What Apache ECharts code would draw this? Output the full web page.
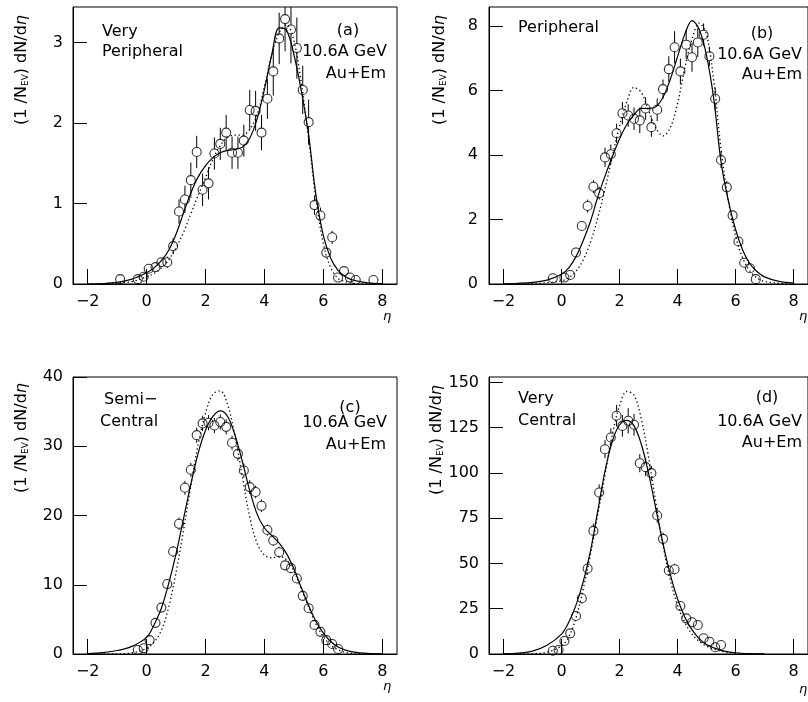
<!DOCTYPE html>
<html>
<head>
<meta charset="utf-8">
<script src="https://cdn.jsdelivr.net/npm/echarts@6/dist/echarts.min.js"></script>
<style>
  html, body { margin: 0; padding: 0; background: #fff; }
  #chart { width: 808px; height: 702px; }
</style>
</head>
<body>
<div id="chart"></div>
<script>
// tick labels
const etaTicks = [-2, 0, 2, 4, 6, 8]
const yTicksA = [0, 1, 2, 3]
const yTicksB = [0, 2, 4, 6, 8]
const yTicksC = [0, 10, 20, 30, 40]
const yTicksD = [0, 25, 50, 75, 100, 125, 150]

// (a) very peripheral - data points
const etaA = [-0.9, -0.3, -0.1, 0.07, 0.3, 0.5, 0.7, 0.9, 1.1, 1.3, 1.5, 1.7, 1.9, 2.1, 2.3, 2.5, 2.7, 2.9, 3.1, 3.3, 3.5, 3.7, 3.9, 4.1, 4.3, 4.5, 4.7, 4.9, 5.1, 5.3, 5.5, 5.7, 5.9, 6.1, 6.3, 6.5, 6.7, 6.9, 7.1, 7.7]
const valA = [0.06, 0.06, 0.09, 0.19, 0.21, 0.27, 0.27, 0.47, 0.90, 1.05, 1.29, 1.64, 1.17, 1.25, 1.62, 1.74, 1.88, 1.63, 1.63, 1.78, 2.16, 2.15, 1.88, 2.30, 2.64, 3.05, 3.29, 3.16, 2.93, 2.41, 2.01, 0.98, 0.85, 0.39, 0.58, 0.08, 0.16, 0.08, 0.05, 0.05]
const errA = [0.03, 0.03, 0.04, 0.05, 0.05, 0.06, 0.07, 0.1, 0.15, 0.17, 0.22, 0.2, 0.2, 0.2, 0.2, 0.2, 0.22, 0.2, 0.2, 0.2, 0.25, 0.25, 0.22, 0.25, 0.3, 0.32, 0.4, 0.42, 0.38, 0.3, 0.28, 0.12, 0.1, 0.06, 0.08, 0.03, 0.04, 0.03, 0.02, 0.02]
// (a) model curves
const curveEtaA = [-2, -1.5, -1, -0.5, 0, 0.25, 0.5, 0.75, 1, 1.25, 1.5, 1.75, 2, 2.25, 2.5, 2.75, 3, 3.25, 3.5, 3.75, 4, 4.25, 4.5, 4.75, 5, 5.25, 5.5, 5.75, 6, 6.25, 6.5, 6.75, 7, 7.5, 8]
const solidA = [0, 0.005, 0.02, 0.06, 0.14, 0.2, 0.29, 0.42, 0.62, 0.88, 1.13, 1.33, 1.47, 1.57, 1.63, 1.66, 1.67, 1.7, 1.81, 2.05, 2.42, 2.85, 3.18, 3.15, 2.85, 2.4, 1.85, 1.1, 0.6, 0.32, 0.17, 0.09, 0.05, 0.015, 0.005]
const dotA = [0, 0.003, 0.01, 0.03, 0.09, 0.13, 0.2, 0.3, 0.45, 0.64, 0.87, 1.1, 1.32, 1.55, 1.72, 1.82, 1.85, 1.85, 1.92, 2.1, 2.45, 2.85, 3.12, 3.22, 3.02, 2.5, 1.8, 1.05, 0.5, 0.2, 0.07, 0.03, 0.01, 0, 0]

// (b) peripheral
const etaB = [-0.3, 0.1, 0.3, 0.5, 0.7, 0.9, 1.1, 1.3, 1.5, 1.7, 1.9, 2.1, 2.3, 2.5, 2.7, 2.9, 3.1, 3.3, 3.5, 3.7, 3.9, 4.1, 4.3, 4.5, 4.7, 4.9, 5.1, 5.3, 5.5, 5.7, 5.9, 6.1, 6.3, 6.5, 6.7]
const valB = [0.18, 0.2, 0.28, 0.98, 1.8, 2.42, 3.02, 2.82, 3.93, 4.03, 4.68, 5.3, 5.23, 5.13, 5.08, 5.45, 4.87, 5.41, 6.05, 6.67, 7.35, 6.6, 7.43, 7.04, 7.5, 7.74, 7.07, 5.75, 3.85, 3.0, 2.13, 1.32, 0.66, 0.49, 0.15]
const errB = [0.08, 0.08, 0.1, 0.15, 0.15, 0.2, 0.2, 0.2, 0.3, 0.3, 0.3, 0.35, 0.35, 0.35, 0.4, 0.35, 0.3, 0.35, 0.3, 0.4, 0.5, 0.4, 0.45, 0.45, 0.45, 0.35, 0.3, 0.35, 0.25, 0.2, 0.15, 0.12, 0.1, 0.08, 0.05]
const curveEtaB = [-2, -1.5, -1, -0.5, 0, 0.25, 0.5, 0.75, 1, 1.25, 1.5, 1.75, 2, 2.25, 2.5, 2.75, 3, 3.25, 3.5, 3.75, 4, 4.25, 4.5, 4.75, 5, 5.25, 5.5, 5.75, 6, 6.25, 6.5, 6.75, 7, 7.5, 8]
const solidB = [0, 0.02, 0.05, 0.12, 0.3, 0.5, 0.85, 1.35, 1.95, 2.7, 3.35, 3.95, 4.5, 4.95, 5.25, 5.45, 5.45, 5.5, 5.8, 6.35, 7.05, 7.75, 8.18, 7.9, 7.1, 5.75, 3.8, 2.6, 1.7, 1.05, 0.62, 0.38, 0.22, 0.08, 0.03]
const dotB = [0, 0.005, 0.01, 0.04, 0.1, 0.2, 0.4, 0.75, 1.3, 2.05, 2.95, 3.95, 4.9, 5.65, 6.1, 5.95, 5.4, 4.85, 4.6, 4.85, 5.6, 6.7, 7.6, 8.1, 7.75, 6.3, 4.2, 2.6, 1.5, 0.8, 0.4, 0.18, 0.08, 0.02, 0]

// (c) semi-central
const etaC = [-0.3, -0.1, 0.1, 0.3, 0.5, 0.7, 0.9, 1.1, 1.3, 1.5, 1.7, 1.9, 2.1, 2.3, 2.5, 2.7, 2.9, 3.1, 3.3, 3.5, 3.7, 3.9, 4.1, 4.3, 4.5, 4.7, 4.9, 5.1, 5.3, 5.5, 5.7, 5.9, 6.1, 6.3, 6.5]
const valC = [0.58, 0.82, 2.0, 4.5, 6.7, 10.1, 14.8, 18.8, 24.0, 26.6, 31.6, 33.3, 33.4, 33.0, 33.5, 32.8, 30.5, 28.9, 26.5, 24.1, 23.4, 21.4, 17.9, 16.4, 14.7, 12.8, 12.4, 10.9, 8.4, 6.6, 4.2, 3.2, 2.0, 1.44, 0.72]
const errC = [0.3, 0.3, 0.4, 0.5, 0.6, 0.7, 0.8, 0.9, 1.0, 1.0, 1.1, 1.1, 1.1, 1.1, 1.1, 1.1, 1.0, 1.0, 1.0, 1.0, 0.9, 0.9, 0.8, 0.8, 0.8, 0.7, 0.7, 0.7, 0.6, 0.5, 0.4, 0.4, 0.3, 0.3, 0.2]
const curveEtaC = [-2, -1.5, -1, -0.5, 0, 0.25, 0.5, 0.75, 1, 1.25, 1.5, 1.75, 2, 2.25, 2.5, 2.75, 3, 3.25, 3.5, 3.75, 4, 4.25, 4.5, 4.75, 5, 5.25, 5.5, 5.75, 6, 6.25, 6.5, 6.75, 7, 7.5, 8]
const solidC = [0.05, 0.2, 0.5, 1.1, 2.4, 4.2, 6.6, 10.2, 14.5, 19.5, 24.5, 29.0, 32.3, 34.3, 35.1, 34.3, 31.6, 27.8, 23.6, 20.2, 18.2, 17.1, 16.0, 14.5, 12.3, 9.6, 7.0, 4.7, 3.0, 1.8, 1.0, 0.55, 0.3, 0.08, 0.02]
const dotC = [0, 0.005, 0.02, 0.15, 0.8, 1.7, 3.4, 6.8, 11.8, 17.8, 24.3, 30.3, 34.8, 37.5, 38.0, 36.0, 31.5, 25.6, 19.8, 16.0, 14.3, 13.9, 14.1, 13.6, 12.0, 9.4, 6.8, 4.3, 2.5, 1.3, 0.6, 0.25, 0.1, 0.02, 0]

// (d) very central
const etaD = [-0.3, -0.1, 0.1, 0.3, 0.5, 0.7, 0.9, 1.1, 1.3, 1.5, 1.7, 1.9, 2.1, 2.3, 2.5, 2.7, 2.9, 3.1, 3.3, 3.5, 3.7, 3.9, 4.1, 4.3, 4.5, 4.7, 4.9, 5.1, 5.3, 5.5]
const valD = [1.8, 2.2, 7.2, 11.4, 21.0, 30.8, 47.2, 68.0, 89.2, 113.1, 119.6, 131.6, 126.0, 128.8, 126.6, 105.4, 103.2, 99.9, 76.5, 63.6, 46.1, 46.8, 26.5, 19.7, 17.5, 16.0, 8.7, 6.8, 3.7, 5.0]
const errD = [1, 1, 1.5, 2, 2.5, 3, 3.5, 4, 4.5, 5, 5, 6, 6, 7, 6, 5, 5, 4, 4, 3.5, 3, 3, 2.5, 2, 2, 2, 1.5, 1.5, 1, 1]
const curveEtaD = [-2, -1.5, -1, -0.5, 0, 0.25, 0.5, 0.75, 1, 1.25, 1.5, 1.75, 2, 2.25, 2.5, 2.75, 3, 3.25, 3.5, 3.75, 4, 4.25, 4.5, 4.75, 5, 5.5, 6, 6.5, 7]
const solidD = [0.1, 0.5, 1.6, 4.8, 11, 17.5, 27, 40, 57, 79, 101, 117.5, 126.5, 129, 126, 116, 100, 80.5, 61, 44, 30.5, 20.5, 13.5, 8.5, 5.3, 2.0, 0.7, 0.2, 0.05]
const dotD = [0, 0.05, 0.2, 1, 4.5, 9.5, 20, 36, 55, 77, 99, 121, 137, 145, 143, 130, 109, 84, 60, 41, 27, 17.5, 11, 7, 4.3, 1.6, 0.5, 0.15, 0.03]

const panels = [
  { eta: etaA, val: valA, err: errA, cx: curveEtaA, solid: solidA, dot: dotA, ymax: 3.44, yt: yTicksA, lm: 10 },
  { eta: etaB, val: valB, err: errB, cx: curveEtaB, solid: solidB, dot: dotB, ymax: 8.6, yt: yTicksB, lm: 11 },
  { eta: etaC, val: valC, err: errC, cx: curveEtaC, solid: solidC, dot: dotC, ymax: 40, yt: yTicksC, lm: 10 },
  { eta: etaD, val: valD, err: errD, cx: curveEtaD, solid: solidD, dot: dotD, ymax: 153, yt: yTicksD, lm: 10 }
]

const FONT = 'DejaVu Sans'
const boxes = [
  { left: 73, top: 7 },
  { left: 489, top: 7 },
  { left: 73, top: 377 },
  { left: 489, top: 377 }
]

const minus = v => String(v).replace('-', '\u2212')

// error bars, gap left for the open circle
function errorBar (params, api) {
  const x = api.value(0), y = api.value(1), e = api.value(2)
  const c = api.coord([x, y])
  const hi = api.coord([x, y + e])
  const lo = api.coord([x, y - e])
  const r = 4.6
  const kids = []
  if (c[1] - hi[1] > r) kids.push({ type: 'line', shape: { x1: c[0], y1: hi[1], x2: c[0], y2: c[1] - r }, style: { stroke: '#000', lineWidth: 1 } })
  if (lo[1] - c[1] > r) kids.push({ type: 'line', shape: { x1: c[0], y1: c[1] + r, x2: c[0], y2: lo[1] }, style: { stroke: '#000', lineWidth: 1 } })
  return { type: 'group', children: kids }
}

const grid = [], xAxis = [], yAxis = [], series = []
panels.forEach((p, i) => {
  grid.push({ left: boxes[i].left, top: boxes[i].top, width: 324, height: 277, show: true, borderColor: '#000', borderWidth: 1, backgroundColor: 'transparent' })
  xAxis.push({
    type: 'value', gridIndex: i, min: -2.5, max: 8.5, position: 'bottom',
    axisLine: { onZero: false, lineStyle: { color: '#000', width: 1 } },
    axisTick: { inside: true, length: 15, customValues: etaTicks, lineStyle: { color: '#000' } },
    axisLabel: { customValues: etaTicks, formatter: minus, color: '#000', fontFamily: FONT, fontSize: 16, margin: 10 },
    splitLine: { show: false }
  })
  yAxis.push({
    type: 'value', gridIndex: i, min: 0, max: p.ymax, position: 'left',
    axisLine: { show: true, onZero: false, lineStyle: { color: '#000', width: 1 } },
    axisTick: { inside: true, length: 14, customValues: p.yt, lineStyle: { color: '#000' } },
    axisLabel: { customValues: p.yt, color: '#000', fontFamily: FONT, fontSize: 16, margin: p.lm },
    splitLine: { show: false }
  })
  series.push({
    type: 'line', xAxisIndex: i, yAxisIndex: i, showSymbol: false, smooth: 0.35,
    lineStyle: { color: '#000', width: 1.2 },
    data: p.cx.map((x, k) => [x, p.solid[k]]), z: 2
  })
  series.push({
    type: 'line', xAxisIndex: i, yAxisIndex: i, showSymbol: false, smooth: 0.35,
    lineStyle: { color: '#000', width: 1.3, type: [1.3, 2.7] },
    data: p.cx.map((x, k) => [x, p.dot[k]]), z: 2
  })
  series.push({
    type: 'custom', xAxisIndex: i, yAxisIndex: i, clip: true,
    renderItem: errorBar, encode: { x: 0, y: 1 },
    data: p.eta.map((x, k) => [x, p.val[k], p.err[k]]), z: 3
  })
  series.push({
    type: 'scatter', xAxisIndex: i, yAxisIndex: i, symbol: 'circle', symbolSize: 9,
    itemStyle: { color: 'rgba(255,255,255,0)', borderColor: '#000', borderWidth: 1.1 },
    data: p.eta.map((x, k) => [x, p.val[k]]), z: 4
  })
})

// panel texts
function txt (x, y, s, align) {
  return {
    type: 'text', x: x, y: y, silent: true,
    style: { text: s, fill: '#000', font: '16px "' + FONT + '"', align: align, verticalAlign: 'middle' }
  }
}
function yTitle (x, y) {
  return {
    type: 'text', x: x, y: y, rotation: Math.PI / 2, silent: true,
    style: {
      text: '(1 /N{s|EV}) dN/d{e|η}', fill: '#000', font: '16px "' + FONT + '"',
      align: 'center', verticalAlign: 'middle',
      rich: { s: { fontSize: 9, fontFamily: FONT, verticalAlign: 'bottom', padding: [5, 0, 0, 0] }, e: { fontSize: 16, fontFamily: FONT, fontStyle: 'italic' } }
    }
  }
}
function etaLabel (x, y) {
  return { type: 'text', x: x, y: y, silent: true, style: { text: 'η', fill: '#000', font: 'italic 13px "' + FONT + '"', align: 'center', verticalAlign: 'middle' } }
}

const graphic = [
  txt(102, 32, 'Very', 'left'), txt(102, 52, 'Peripheral', 'left'),
  txt(348, 31, '(a)', 'center'), txt(387, 52, '10.6A GeV', 'right'), txt(386, 74, 'Au+Em', 'right'),
  txt(518, 28, 'Peripheral', 'left'),
  txt(762, 34, '(b)', 'center'), txt(802, 55, '10.6A GeV', 'right'), txt(802, 75, 'Au+Em', 'right'),
  txt(104, 400, 'Semi\u2212', 'left'), txt(100, 422, 'Central', 'left'),
  txt(350, 408, '(c)', 'center'), txt(387, 423, '10.6A GeV', 'right'), txt(386, 445, 'Au+Em', 'right'),
  txt(518, 399, 'Very', 'left'), txt(518, 421, 'Central', 'left'),
  txt(767, 398, '(d)', 'center'), txt(802, 422, '10.6A GeV', 'right'), txt(802, 443, 'Au+Em', 'right'),
  yTitle(22, 70), yTitle(440, 70), yTitle(22, 438), yTitle(437, 440),
  etaLabel(387, 317), etaLabel(803, 317), etaLabel(387, 687), etaLabel(803, 690)
]

const myChart = echarts.init(document.getElementById('chart'))
myChart.setOption({
  backgroundColor: '#fff',
  animation: false,
  grid: grid,
  xAxis: xAxis,
  yAxis: yAxis,
  series: series,
  graphic: graphic
})
</script>
</body>
</html>
